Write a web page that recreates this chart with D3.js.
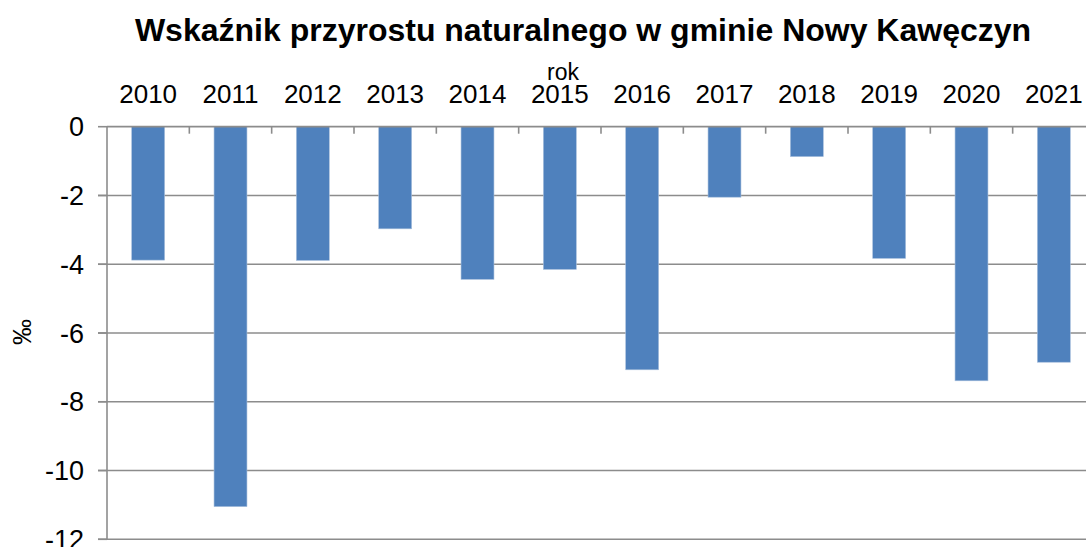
<!DOCTYPE html>
<html>
<head>
<meta charset="utf-8">
<script src="https://cdn.jsdelivr.net/npm/d3@7"></script>
<style>
  html, body { margin: 0; padding: 0; background: #fff; }
  svg { display: block; font-family: "Liberation Sans", Arial, sans-serif; }
</style>
</head>
<body>
<div id="chart"></div>
<script>
const years = ["2010", "2011", "2012", "2013", "2014", "2015", "2016", "2017", "2018", "2019", "2020", "2021"];
const values = [-3.88, -11.05, -3.89, -2.97, -4.44, -4.15, -7.07, -2.05, -0.87, -3.83, -7.39, -6.85];
const yTicks = [0, -2, -4, -6, -8, -10, -12];

const width = 1086;
const height = 547;
const plot = { left: 107, right: 1095, top: 126.7, bottom: 539.3 };

const svg = d3.select("#chart").append("svg")
  .attr("width", width)
  .attr("height", height);

const x = d3.scaleBand()
  .domain(years)
  .range([plot.left, plot.right])
  .paddingInner(0.6)
  .paddingOuter(0.3);

const y = d3.scaleLinear()
  .domain([-12, 0])
  .range([plot.bottom, plot.top]);

// gridlines
svg.append("g")
  .selectAll("line")
  .data(yTicks.filter(d => d !== 0))
  .join("line")
  .attr("x1", plot.left - 9)
  .attr("x2", plot.right)
  .attr("y1", d => y(d))
  .attr("y2", d => y(d))
  .attr("stroke", "#8c8c8c")
  .attr("stroke-width", 1.6);

// bars
svg.append("g")
  .selectAll("rect")
  .data(values)
  .join("rect")
  .attr("x", (d, i) => x(years[i]))
  .attr("y", y(0))
  .attr("width", x.bandwidth())
  .attr("height", d => y(d) - y(0))
  .attr("fill", "#4f81bd")
  .attr("stroke", "#a7bfdc")
  .attr("stroke-width", 0.6);

// y axis
svg.append("line")
  .attr("x1", plot.left).attr("x2", plot.left)
  .attr("y1", plot.top).attr("y2", plot.bottom)
  .attr("stroke", "#8c8c8c")
  .attr("stroke-width", 1.6);

svg.append("g")
  .selectAll("line")
  .data(yTicks)
  .join("line")
  .attr("x1", plot.left - 9)
  .attr("x2", plot.left)
  .attr("y1", d => y(d))
  .attr("y2", d => y(d))
  .attr("stroke", "#8c8c8c")
  .attr("stroke-width", 1.6);

svg.append("g")
  .selectAll("text")
  .data(yTicks)
  .join("text")
  .attr("x", 84)
  .attr("y", d => y(d))
  .attr("dy", "0.36em")
  .attr("text-anchor", "end")
  .attr("font-size", 27)
  .attr("fill", "#000")
  .text(d => d);

// x axis on top (zero line)
svg.append("line")
  .attr("x1", plot.left).attr("x2", plot.right)
  .attr("y1", y(0)).attr("y2", y(0))
  .attr("stroke", "#8c8c8c")
  .attr("stroke-width", 1.8);

const boundaries = d3.range(1, years.length + 1).map(i => plot.left + i * (plot.right - plot.left) / years.length);
svg.append("g")
  .selectAll("line")
  .data(boundaries)
  .join("line")
  .attr("x1", d => d).attr("x2", d => d)
  .attr("y1", y(0))
  .attr("y2", y(0) + 7)
  .attr("stroke", "#8c8c8c")
  .attr("stroke-width", 1.6);

svg.append("g")
  .selectAll("text")
  .data(years)
  .join("text")
  .attr("x", d => x(d) + x.bandwidth() / 2)
  .attr("y", 103)
  .attr("text-anchor", "middle")
  .attr("font-size", 26)
  .attr("fill", "#000")
  .text(d => d);

// titles
svg.append("text")
  .attr("x", 583)
  .attr("y", 41)
  .attr("text-anchor", "middle")
  .attr("font-size", 32)
  .attr("font-weight", "bold")
  .attr("fill", "#000")
  .text("Wskaźnik przyrostu naturalnego w gminie Nowy Kawęczyn");

svg.append("text")
  .attr("x", 563)
  .attr("y", 80)
  .attr("text-anchor", "middle")
  .attr("font-size", 23)
  .attr("fill", "#000")
  .text("rok");

svg.append("text")
  .attr("transform", "translate(31,332) rotate(-90)")
  .attr("text-anchor", "middle")
  .attr("font-size", 26)
  .attr("fill", "#000")
  .text("‰");
</script>
</body>
</html>
